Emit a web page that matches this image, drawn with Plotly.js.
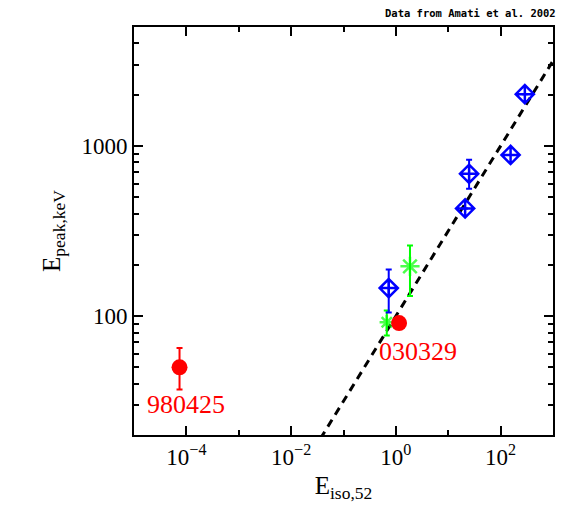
<!DOCTYPE html>
<html>
<head>
<meta charset="utf-8">
<script src="https://cdn.plot.ly/plotly-3.0.1.min.js"></script>
<style>
  html, body { margin: 0; padding: 0; background: #fff; }
  #grafico { width: 568px; height: 529px; }
</style>
</head>
<body>
<div id="grafico"></div>
<script>
// values (Eiso in 1e52 erg, Epeak in keV)
let redE = [7.4e-5, 1.15];
let redEp = [50, 91];
let redErrUp = [15, 0];
let redErrDown = [13, 0];
let redNames = ['980425', '030329'];

let greenE = [0.67, 1.86];
let greenEp = [92, 196];
let greenErrUp = [16, 64];
let greenErrDown = [15, 65];

let blueE = [0.73, 21, 25, 155, 290];
let blueEp = [146, 429, 686, 885, 2015];
let blueErrUp = [42, 0, 142, 0, 0];
let blueErrDown = [41, 0, 125, 0, 0];

// Amati relation, endpoints of the dashed line
let lineE = [0.01, 1000];
let lineEp = [10, 3162];

let serif = 'Liberation Serif, serif';

let amatiLine = {
    x: lineE, y: lineEp,
    mode: 'lines',
    line: { color: 'black', width: 3, dash: '8px,6px' },
    hoverinfo: 'skip'
};

let greenPts = {
    x: greenE, y: greenEp,
    mode: 'markers',
    marker: { symbol: 'asterisk-open', size: [12, 16], color: '#00ff00', line: { color: '#00ff00', width: 2.5 } },
    error_y: { type: 'data', symmetric: false, array: greenErrUp, arrayminus: greenErrDown,
               color: '#00ff00', thickness: 2, width: 3 }
};

let bluePts = {
    x: blueE, y: blueEp,
    mode: 'markers',
    marker: { symbol: 'diamond-cross-open', size: 14, color: 'blue', line: { color: 'blue', width: 2.5 } },
    error_y: { type: 'data', symmetric: false, array: blueErrUp, arrayminus: blueErrDown,
               color: 'blue', thickness: 2, width: 3 }
};

let redPts = {
    x: redE, y: redEp,
    mode: 'markers',
    marker: { symbol: 'circle', size: 16, color: 'red' },
    error_y: { type: 'data', symmetric: false, array: redErrUp, arrayminus: redErrDown,
               color: 'red', thickness: 2, width: 3 }
};

let axisCommon = {
    type: 'log',
    showline: true, linecolor: 'black', linewidth: 2,
    mirror: 'allticks',
    ticks: 'inside', ticklen: 9, tickwidth: 2, tickcolor: 'black',
    showgrid: false, zeroline: false,
    tickfont: { family: serif, size: 23, color: 'black' }
};

let layout = {
    width: 568, height: 529,
    margin: { l: 134, r: 15, t: 27, b: 94 },
    paper_bgcolor: 'white', plot_bgcolor: 'white',
    showlegend: false,
    xaxis: Object.assign({}, axisCommon, {
        range: [-5, 3],
        tickvals: [1e-4, 1e-2, 1, 100],
        ticktext: ['10<sup>\u22124</sup>', '10<sup>\u22122</sup>', '10<sup>0</sup>', '10<sup>2</sup>'],
        minor: { tickvals: [1e-5, 1e-3, 0.1, 10, 1000], ticks: 'inside', ticklen: 5, tickwidth: 2, tickcolor: 'black' },
        title: { text: 'E<sub>iso,52</sub>', font: { family: serif, size: 25, color: 'black' }, standoff: 8 }
    }),
    yaxis: Object.assign({}, axisCommon, {
        range: [Math.log10(20), Math.log10(5000)],
        tickvals: [100, 1000],
        ticktext: ['100', '1000'],
        minor: { tickvals: [20, 30, 40, 50, 60, 70, 80, 90, 200, 300, 400, 500, 600, 700, 800, 900, 2000, 3000, 4000, 5000],
                 ticks: 'inside', ticklen: 5, tickwidth: 2, tickcolor: 'black' },
        title: { text: 'E<sub>peak,keV</sub>', font: { family: serif, size: 25, color: 'black' }, standoff: 14 }
    }),
    annotations: [
        { xref: 'x', yref: 'y', x: -4, y: 1.48, text: redNames[0], showarrow: false,
          font: { family: serif, size: 26, color: 'red' } },
        { xref: 'x', yref: 'y', x: 0.423, y: 1.79, text: redNames[1], showarrow: false,
          font: { family: serif, size: 26, color: 'red' } },
        { xref: 'paper', yref: 'paper', x: 1.012, y: 1.034, xanchor: 'right', yanchor: 'middle',
          text: '<b>Data from Amati et al. 2002</b>', showarrow: false,
          font: { family: 'DejaVu Sans Mono, monospace', size: 10.5, color: 'black' } }
    ]
};

Plotly.newPlot('grafico', [amatiLine, greenPts, bluePts, redPts], layout, { displayModeBar: false });
</script>
</body>
</html>
